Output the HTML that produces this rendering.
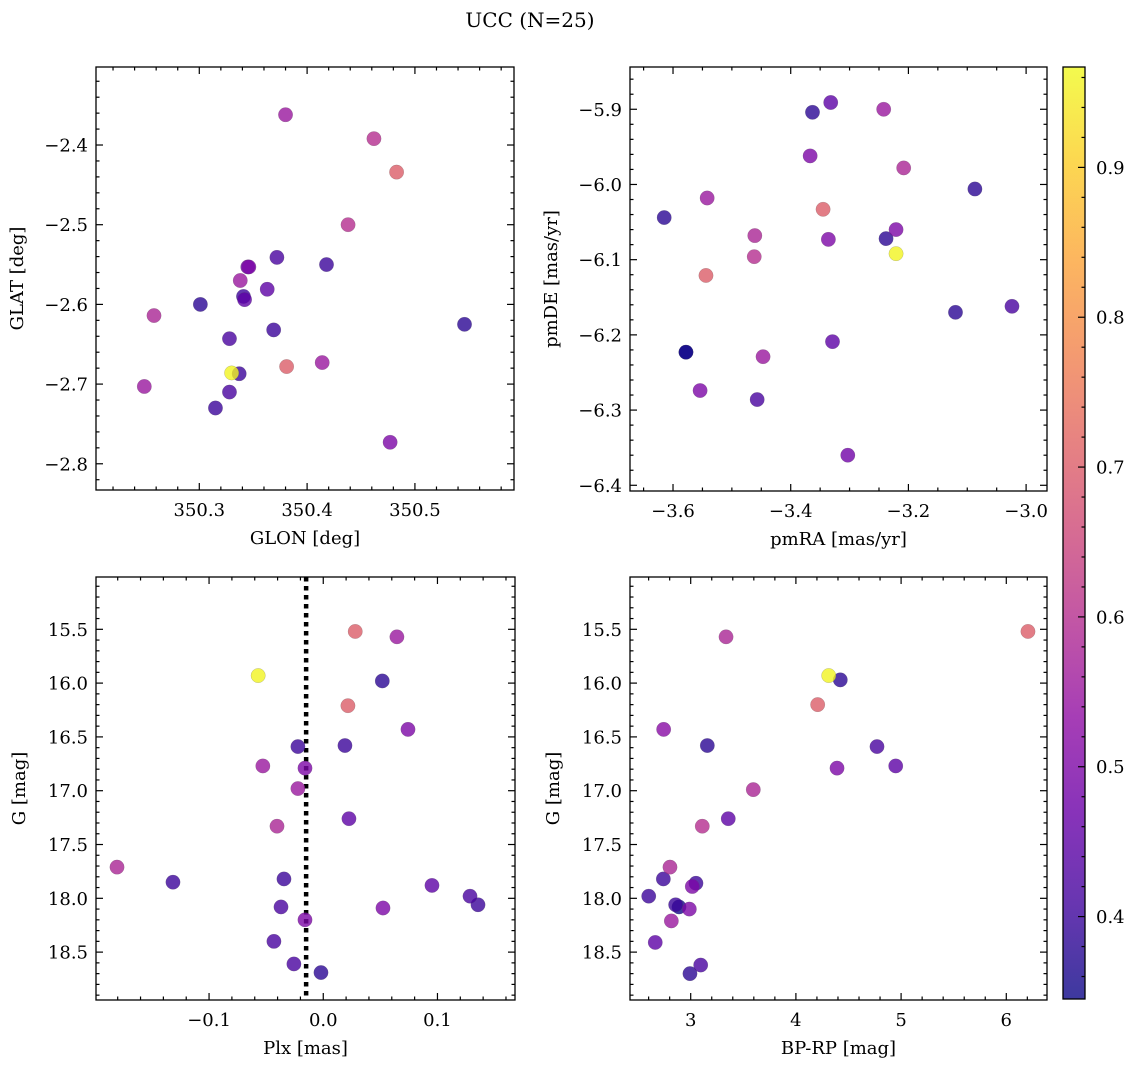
<!DOCTYPE html>
<html><head><meta charset="utf-8">
<style>
html,body{margin:0;padding:0;background:#fff;}
svg{display:block;font-family:"DejaVu Serif","Liberation Serif",serif;}
</style></head>
<body>
<svg id="fig" width="1136" height="1067" viewBox="0 0 1136 1067" xmlns="http://www.w3.org/2000/svg">
<text x="530" y="27" font-size="20" text-anchor="middle">UCC (N=25)</text>
</svg>
<script>
// ---- Panel 1: GLON vs GLAT ----
const glonTL = [350.380,350.462,350.483,350.438,350.372,350.346,350.418,350.338,350.363,350.341,350.342,350.301,350.258,350.546,350.369,350.328,350.414,350.381,350.337,350.249,350.328,350.315,350.477,350.345,350.330];
const glatTL = [-2.362,-2.392,-2.434,-2.500,-2.541,-2.553,-2.550,-2.570,-2.581,-2.590,-2.594,-2.600,-2.614,-2.625,-2.632,-2.643,-2.673,-2.678,-2.687,-2.703,-2.710,-2.730,-2.773,-2.553,-2.686];
const probTL = [0.55,0.60,0.70,0.60,0.42,0.50,0.40,0.55,0.45,0.40,0.45,0.38,0.58,0.38,0.40,0.42,0.55,0.70,0.40,0.55,0.42,0.40,0.50,0.48,0.96];
// ---- Panel 2: pmRA vs pmDE ----
const pmraTR = [-3.615,-3.542,-3.544,-3.578,-3.554,-3.461,-3.462,-3.447,-3.457,-3.363,-3.332,-3.367,-3.345,-3.336,-3.329,-3.303,-3.242,-3.208,-3.221,-3.238,-3.087,-3.120,-3.024,-3.578,-3.221];
const pmdeTR = [-6.044,-6.018,-6.121,-6.223,-6.274,-6.068,-6.096,-6.229,-6.286,-5.904,-5.891,-5.962,-6.033,-6.073,-6.209,-6.360,-5.900,-5.978,-6.060,-6.072,-6.006,-6.170,-6.162,-6.223,-6.092];
const probTR = [0.38,0.55,0.70,0.35,0.50,0.58,0.60,0.55,0.42,0.38,0.45,0.50,0.70,0.50,0.45,0.48,0.55,0.58,0.50,0.38,0.38,0.38,0.42,0.35,0.96];
// ---- Panel 3: Plx vs G ----
const plxBL = [0.028,0.0645,-0.057,0.0517,0.0216,0.0742,-0.0222,0.019,-0.0529,-0.016,-0.0222,-0.0405,0.0225,-0.1806,-0.1316,-0.0344,0.0952,0.1285,0.1355,-0.037,0.0523,-0.016,-0.0432,-0.0257,-0.002];
const gBL = [15.52,15.57,15.93,15.98,16.21,16.43,16.59,16.58,16.77,16.79,16.98,17.33,17.26,17.71,17.85,17.82,17.88,17.98,18.06,18.08,18.09,18.20,18.40,18.61,18.69];
const probBL = [0.70,0.55,0.96,0.38,0.70,0.50,0.40,0.40,0.55,0.50,0.55,0.58,0.45,0.58,0.40,0.40,0.45,0.42,0.40,0.42,0.50,0.50,0.42,0.42,0.38];
const plxLine = -0.015;
// ---- Panel 4: BP-RP vs G ----
const bprpBR = [6.206,3.336,4.312,4.422,4.207,2.743,3.158,4.771,4.391,4.949,3.595,3.110,3.357,2.803,2.740,3.050,3.015,2.601,2.857,2.889,2.987,2.816,2.663,3.095,2.993];
const gBR = [15.52,15.57,15.93,15.97,16.20,16.43,16.58,16.59,16.79,16.77,16.99,17.33,17.26,17.71,17.82,17.86,17.89,17.98,18.06,18.08,18.10,18.21,18.41,18.62,18.70];
const probBR = [0.70,0.58,0.96,0.38,0.70,0.52,0.38,0.42,0.50,0.45,0.58,0.60,0.45,0.58,0.40,0.40,0.50,0.40,0.40,0.35,0.50,0.55,0.45,0.42,0.38];
// ---- Colorbar ticks ----
const cbTicks = [0.4,0.5,0.6,0.7,0.8,0.9];
const cbMin = 0.345, cbMax = 0.967;

const NS = "http://www.w3.org/2000/svg";
const svg = document.getElementById('fig');
function el(tag, attrs, parent){const e=document.createElementNS(NS,tag);for(const k in attrs)e.setAttribute(k,attrs[k]);(parent||svg).appendChild(e);return e;}

const plasmaStops=["#0d0887","#41049d","#6a00a8","#8f0da4","#b12a90","#cc4778","#e16462","#f2844b","#fca636","#fcce25","#f0f921"];
function hex(h){return [parseInt(h.substr(1,2),16),parseInt(h.substr(3,2),16),parseInt(h.substr(5,2),16)];}
function plasma(t){t=Math.max(0,Math.min(1,t));const s=t*10;const i=Math.min(9,Math.floor(s));const f=s-i;const a=hex(plasmaStops[i]),b=hex(plasmaStops[i+1]);return `rgb(${Math.round(a[0]+(b[0]-a[0])*f)},${Math.round(a[1]+(b[1]-a[1])*f)},${Math.round(a[2]+(b[2]-a[2])*f)})`;}
function cnorm(v){return (v-cbMin)/(cbMax-cbMin);}

function fmt(v,d){let s=v.toFixed(d);if(s.startsWith('-'))s='\u2212'+s.slice(1);if(s==='\u22120.0')s='0.0';return s;}

function panel(cfg){
  const {name,x0,x1,y0,y1,xd,yd,xMaj,xMin,yMaj,yMin,xDec,yDec,xs,ys,ps,xlabel,ylabel,invertY}=cfg;
  const g=el('g',{});
  
  
  const sx=v=>x0+(v-xd[0])/(xd[1]-xd[0])*(x1-x0);
  const sy=invertY?(v=>y0+(v-yd[0])/(yd[1]-yd[0])*(y1-y0)):(v=>y1-(v-yd[0])/(yd[1]-yd[0])*(y1-y0));
  const eps=1e-9;
  const tg=el('g',{stroke:'#000','stroke-width':1.2},g);
  for(let v=Math.ceil(xd[0]/xMin-eps)*xMin; v<=xd[1]+eps; v+=xMin){
    const X=sx(v); const isMaj=Math.abs(v/xMaj-Math.round(v/xMaj))<1e-6; const L=isMaj?7:3.5;
    el('line',{x1:X,y1:y1,x2:X,y2:y1-L},tg); el('line',{x1:X,y1:y0,x2:X,y2:y0+L},tg);
    if(isMaj){const t=el('text',{x:X,y:y1+26,'font-size':18,'text-anchor':'middle',stroke:'none',fill:'#000'},g);t.textContent=fmt(Math.round(v/xMaj)*xMaj,xDec);
      
      }
  }
  for(let v=Math.ceil(yd[0]/yMin-eps)*yMin; v<=yd[1]+eps; v+=yMin){
    const Y=sy(v); const isMaj=Math.abs(v/yMaj-Math.round(v/yMaj))<1e-6; const L=isMaj?7:3.5;
    el('line',{x1:x0,y1:Y,x2:x0+L,y2:Y},tg); el('line',{x1:x1,y1:Y,x2:x1-L,y2:Y},tg);
    if(isMaj){const t=el('text',{x:x0-8,y:Y+6.5,'font-size':18,'text-anchor':'end',fill:'#000'},g);t.textContent=fmt(Math.round(v/yMaj)*yMaj,yDec);
      
      }
  }
  if(cfg.vline!==undefined){
    const X=sx(cfg.vline);
    const l=el('line',{x1:X,y1:y0,x2:X,y2:y1,stroke:'#000','stroke-width':4.5,'stroke-dasharray':'4.5,4.5'},g);
    
    
  }
  const idx=ps.map((p,i)=>i).sort((a,b)=>ps[a]-ps[b]);
  for(const i of idx){
    const c=el('circle',{cx:sx(xs[i]),cy:sy(ys[i]),r:7.2,fill:plasma(cnorm(ps[i])),'fill-opacity':0.8,stroke:'#555','stroke-width':0.3,'stroke-opacity':0.6},g);
    
    
  }
  const fr=el('rect',{x:x0,y:y0,width:x1-x0,height:y1-y0,fill:'none',stroke:'#000','stroke-width':1.3},g);
  
  
  const xl=el('text',{x:(x0+x1)/2,y:y1+54,'font-size':18,'text-anchor':'middle'},g);xl.textContent=xlabel;
  
  
  const yx=cfg.ylx, yy=(y0+y1)/2;
  const yl=el('text',{x:yx,y:yy,'font-size':18,'text-anchor':'middle',transform:`rotate(-90 ${yx} ${yy})`},g);yl.textContent=ylabel;
  
  
}

panel({name:'glon-glat-panel',x0:96,x1:514,y0:67,y1:490,xd:[350.2042,350.5919],yd:[-2.8329,-2.3021],xMaj:0.1,xMin:0.02,yMaj:0.1,yMin:0.02,xDec:1,yDec:1,xs:glonTL,ys:glatTL,ps:probTL,xlabel:'GLON [deg]',ylabel:'GLAT [deg]',ylx:23});
panel({name:'pm-panel',x0:630,x1:1047,y0:67,y1:491,xd:[-3.6731,-2.9645],yd:[-6.4076,-5.8438],xMaj:0.2,xMin:0.05,yMaj:0.1,yMin:0.02,xDec:1,yDec:1,xs:pmraTR,ys:pmdeTR,ps:probTR,xlabel:'pmRA [mas/yr]',ylabel:'pmDE [mas/yr]',ylx:557});
panel({name:'plx-g-panel',x0:96,x1:515,y0:577,y1:1000,xd:[-0.1990,0.1679],yd:[15.0139,18.945],xMaj:0.1,xMin:0.02,yMaj:0.5,yMin:0.1,xDec:1,yDec:1,xs:plxBL,ys:gBL,ps:probBL,xlabel:'Plx [mas]',ylabel:'G [mag]',ylx:25,invertY:true,vline:plxLine});
panel({name:'cmd-panel',x0:630,x1:1047,y0:577,y1:1000,xd:[2.423,6.387],yd:[15.0139,18.945],xMaj:1,xMin:0.2,yMaj:0.5,yMin:0.1,xDec:0,yDec:1,xs:bprpBR,ys:gBR,ps:probBR,xlabel:'BP-RP [mag]',ylabel:'G [mag]',ylx:559,invertY:true});

(function(){
  const cx0=1063,cx1=1085,cy0=67,cy1=999;
  const g=el('g',{});
  
  
  const defs=el('defs',{},g);
  const lg=el('linearGradient',{id:'cbg',x1:0,y1:1,x2:0,y2:0},defs);
  for(let i=0;i<=20;i++){el('stop',{offset:(i/20),'stop-color':plasma(i/20)},lg);}
  el('rect',{x:cx0,y:cy0,width:cx1-cx0,height:cy1-cy0,fill:'url(#cbg)','fill-opacity':0.8},g);
  const sy=v=>cy1-(v-cbMin)/(cbMax-cbMin)*(cy1-cy0);
  for(let k=Math.ceil(cbMin/0.02);k*0.02<=cbMax;k++){
    const v=k*0.02; const Y=sy(v); const maj=(k%5===0);
    el('line',{x1:cx1,y1:Y,x2:cx1-(maj?7:3.5),y2:Y,stroke:'#000','stroke-width':1.2},g);
  }
  for(const v of cbTicks){
    const t=el('text',{x:cx1+11,y:sy(v)+6.5,'font-size':18},g);t.textContent=v.toFixed(1);
    
    
  }
  el('rect',{x:cx0,y:cy0,width:cx1-cx0,height:cy1-cy0,fill:'none',stroke:'#000','stroke-width':1.3},g);
})();
</script>
</body></html>
